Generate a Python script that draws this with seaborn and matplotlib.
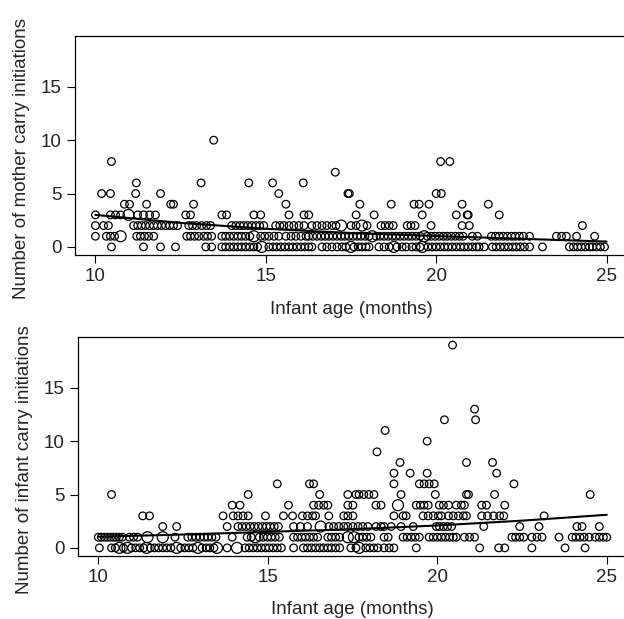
import matplotlib
matplotlib.use("Agg")
import matplotlib.pyplot as plt
import seaborn as sns
import pandas as pd

# ---------------- data: mother carry initiations (ages in months, per count) -------------
mother_c0 = [10.47, 11.41, 11.91, 12.35, 13.24, 13.41,
             13.71, 13.82, 13.94, 14.06, 14.18, 14.29, 14.41, 14.53, 14.65, 14.76,
             15.09, 15.21, 15.32, 15.44, 15.56, 15.68, 15.79, 15.91, 16.03, 16.15, 16.26, 16.35,
             16.65, 16.79, 16.94, 17.09, 17.24, 17.35, 17.59, 17.71, 17.82, 17.94, 18.03,
             18.32, 18.47, 18.62, 18.85, 19.0, 19.12,
             19.29, 19.41, 19.53, 19.76, 19.88, 20.0, 20.12, 20.24, 20.35, 20.47, 20.59,
             20.71, 20.82, 20.94, 21.06, 21.18, 21.26, 21.41, 21.65, 21.76, 21.88, 22.0,
             22.12, 22.24, 22.35, 22.47, 22.59, 22.74, 23.12,
             23.91, 24.03, 24.15, 24.26, 24.38, 24.5, 24.59, 24.71, 24.82, 24.94]
mother_c1 = [10.0, 10.32, 10.44, 10.56, 11.21, 11.32, 11.44, 11.56, 11.71,
             12.68, 12.79, 12.91, 13.03, 13.18, 13.29, 13.41,
             13.71, 13.82, 13.94, 14.06, 14.18, 14.29, 14.41, 14.53,
             14.85, 14.97, 15.09, 15.24, 15.38, 15.59, 15.74, 15.88, 16.03, 16.18,
             16.26, 16.38, 16.5, 16.62, 16.74, 16.85, 16.97, 17.09, 17.21, 17.32, 17.44,
             17.56, 17.68, 17.79, 17.91, 18.03,
             18.24, 18.35, 18.47, 18.59, 18.71, 18.82, 18.94, 19.06, 19.18, 19.29, 19.41, 19.53,
             19.74, 19.85, 19.97, 20.09, 20.21, 20.32, 20.44, 20.56, 20.68, 20.79,
             21.06, 21.21, 21.62, 21.74, 21.85, 21.97, 22.09, 22.21, 22.32, 22.44, 22.56,
             22.74, 23.53, 23.68, 23.82, 24.12, 24.65]
mother_c2 = [10.0, 10.24, 10.38, 11.12, 11.24, 11.35, 11.47, 11.59, 11.71, 11.82, 11.94,
             12.06, 12.18, 12.29, 12.41, 12.74, 12.85, 12.97, 13.12, 13.26, 13.38,
             14.0, 14.12, 14.24, 14.35, 14.47, 14.59, 14.71, 14.82, 14.94,
             15.29, 15.41, 15.53, 15.68, 15.82, 15.97, 16.12,
             16.35, 16.5, 16.65, 16.79, 16.94, 17.06, 17.5, 17.65, 17.97,
             18.38, 18.5, 18.62, 18.74, 19.15, 19.26, 19.38, 19.85, 20.76, 20.97, 24.29]
mother_c3 = [10.0, 10.44, 10.59, 10.74, 11.24, 11.41, 11.59, 11.76, 12.65, 12.79,
             13.71, 13.85, 14.65, 14.85, 15.68, 16.12, 16.26, 17.65, 18.18, 19.59,
             20.59, 20.91, 20.94, 21.85]
mother_c4 = [10.85, 11.0, 11.5, 12.21, 12.29, 12.88, 15.59, 17.76, 18.68, 19.35, 19.5,
             19.79, 20.76, 21.53]
mother_c5 = [10.18, 10.44, 11.18, 11.91, 15.38, 17.41, 17.45, 20.0, 20.15]
mother_c6 = [11.2, 13.1, 14.5, 15.2, 16.1]
mother_c7 = [17.04]
mother_c8 = [10.47, 20.13, 20.4]
mother_c10 = [13.47]
# larger circles (several observations at one point)
mother_big_age = [10.97, 10.74, 14.65, 14.88, 17.21, 17.82, 18.12, 19.65, 17.5, 18.76, 19.59]
mother_big_count = [3, 1, 1, 0, 2, 2, 1, 1, 0, 0, 0]
# fitted line
mother_fit_age = [10, 12.5, 15, 17.5, 20, 22.5, 25]
mother_fit_count = [3.0, 2.25, 1.7, 1.3, 1.02, 0.76, 0.5]

# ---------------- data: infant carry initiations ----------------
infant_c0 = [10.03, 10.39, 10.5, 10.74, 10.98, 11.1, 11.22, 11.34,
             11.54, 11.66, 11.78, 11.9, 12.02, 12.14, 12.43, 12.55, 12.67, 12.79,
             13.06, 13.18, 13.29, 13.41, 13.8,
             14.33, 14.45, 14.57, 14.69, 14.81, 14.93, 15.04, 15.16, 15.28, 15.4, 15.76,
             16.05, 16.17, 16.29, 16.41, 16.53, 16.65, 16.77, 16.88, 17.0, 17.12,
             17.45, 17.6, 17.89, 18.01, 18.13, 18.25, 18.43, 18.58, 18.72, 19.38,
             21.25, 21.81, 21.99, 22.79, 23.77, 24.36]
infant_c1 = [10.0, 10.09, 10.18, 10.27, 10.36, 10.45, 10.53, 10.62, 10.71, 10.92, 11.04, 11.16,
             12.26, 12.64, 12.76, 12.88, 13.0, 13.12, 13.23, 13.35, 13.47, 13.95,
             14.39, 14.51, 14.75, 14.87, 14.99, 15.1, 15.22, 15.34,
             15.76, 15.88, 16.0, 16.11, 16.23, 16.35, 16.47, 16.77, 16.88, 17.0, 17.12,
             17.69, 17.8, 17.92, 18.04, 18.43, 18.55, 18.99, 19.11, 19.23, 19.35, 19.47,
             19.76, 19.88, 20.0, 20.12, 20.24, 20.36, 20.47, 20.56, 20.8, 20.95, 21.1,
             22.2, 22.31, 22.43, 22.55, 22.79, 22.94, 23.09, 23.59,
             23.98, 24.09, 24.21, 24.33, 24.48, 24.66, 24.78, 24.9, 25.0]
infant_c2 = [11.9, 12.31, 13.8, 14.12, 14.24, 14.36, 14.48, 14.6, 14.72, 14.84, 14.96,
             15.07, 15.19, 15.31, 15.76, 15.96, 16.17, 16.8, 16.94, 17.09, 17.24, 17.36,
             17.51, 17.66, 17.8, 17.95, 18.19, 18.34, 18.43, 18.64, 18.93, 19.29,
             19.97, 20.06, 20.18, 20.3, 20.42, 21.37, 22.43, 23.0, 24.12, 24.27, 24.78]
infant_c3 = [11.31, 11.51, 13.68, 13.98, 14.12, 14.27, 14.42, 14.93, 15.46, 15.73,
             16.02, 16.17, 16.32, 16.41, 16.8, 17.24, 17.36, 17.51, 18.72, 18.99, 19.08,
             19.58, 19.73, 19.88, 20.03, 20.12, 20.33, 20.47, 20.62, 20.77, 20.86,
             21.31, 21.48, 21.66, 21.84, 21.96, 23.15]
infant_c4 = [13.95, 14.18, 15.61, 16.35, 16.5, 16.65, 16.77, 17.36, 17.51, 18.19, 18.34,
             19.38, 19.5, 19.61, 19.73, 20.06, 20.18, 20.33, 20.56, 20.71, 20.8,
             21.31, 21.45, 21.99]
infant_c5 = [10.39, 14.42, 16.53, 17.36, 17.6, 17.69, 17.83, 17.98, 18.13, 18.93, 19.94,
             20.86, 20.92, 21.69, 24.51]
infant_c6 = [15.28, 16.23, 16.35, 18.72, 19.47, 19.61, 19.76, 19.91, 22.26]
infant_c7 = [18.72, 19.2, 19.7, 21.75]
infant_c8 = [18.9, 20.86, 21.63]
infant_c9 = [18.22]
infant_c10 = [19.7]
infant_c11 = [18.46]
infant_c12 = [20.21, 21.13]
infant_c13 = [21.1]
infant_c19 = [20.45]
infant_big_age = [11.45, 11.9, 14.63, 17.36, 17.54, 10.62, 10.86, 11.42, 12.31, 12.94,
                  13.5, 14.09, 17.69, 18.84, 16.56]
infant_big_count = [1, 1, 1, 1, 1, 0, 0, 0, 0, 0, 0, 0, 0, 4, 2]
infant_fit_age = [10, 12.5, 15, 17.5, 20, 22.5, 25]
infant_fit_count = [1.05, 1.25, 1.5, 1.75, 2.1, 2.55, 3.1]

x_ticks = [10, 15, 20, 25]
y_ticks = [0, 5, 10, 15]
x_label = "Infant age (months)"
mother_label = "Number of mother carry initiations"
infant_label = "Number of infant carry initiations"


def build(rows):
    ages, counts = [], []
    for c, lst in rows.items():
        ages += lst
        counts += [c] * len(lst)
    return pd.DataFrame({"age": ages, "count": counts})


mother_df = build({0: mother_c0, 1: mother_c1, 2: mother_c2, 3: mother_c3, 4: mother_c4,
                   5: mother_c5, 6: mother_c6, 7: mother_c7, 8: mother_c8, 10: mother_c10})
infant_df = build({0: infant_c0, 1: infant_c1, 2: infant_c2, 3: infant_c3, 4: infant_c4,
                   5: infant_c5, 6: infant_c6, 7: infant_c7, 8: infant_c8, 9: infant_c9,
                   10: infant_c10, 11: infant_c11, 12: infant_c12, 13: infant_c13,
                   19: infant_c19})
mother_big = pd.DataFrame({"age": mother_big_age, "count": mother_big_count})
infant_big = pd.DataFrame({"age": infant_big_age, "count": infant_big_count})
mother_fit = pd.DataFrame({"age": mother_fit_age, "count": mother_fit_count})
infant_fit = pd.DataFrame({"age": infant_fit_age, "count": infant_fit_count})

sns.set_style("ticks")
plt.rcParams["font.family"] = ["Liberation Sans", "DejaVu Sans"]
FS = 13.5

fig = plt.figure(figsize=(6.24, 6.19), dpi=100)
ax1 = fig.add_axes([0.1202, 0.588, 0.8846, 0.3538])
ax2 = fig.add_axes([0.1250, 0.1018, 0.8800, 0.3538])

panels = [(ax1, mother_df, mother_big, mother_fit, mother_label),
          (ax2, infant_df, infant_big, infant_fit, infant_label)]

for ax, df, big, fit, ylab in panels:
    sns.scatterplot(data=df, x="age", y="count", ax=ax, marker="o", s=30,
                    facecolor="none", edgecolor="black", linewidth=0.9, legend=False)
    sns.scatterplot(data=big, x="age", y="count", ax=ax, marker="o", s=62,
                    facecolor="none", edgecolor="black", linewidth=0.9, legend=False)
    sns.lineplot(data=fit, x="age", y="count", ax=ax, color="black", linewidth=1.5,
                 legend=False)
    ax.set_xlim(9.4, 25.6)
    ax.set_ylim(-0.76, 19.76)
    ax.set_xticks(x_ticks)
    ax.set_yticks(y_ticks)
    ax.set_xticklabels([str(t) for t in x_ticks])
    ax.set_yticklabels([str(t) for t in y_ticks])
    ax.tick_params(axis="both", direction="out", length=5.5, width=0.8, color="black",
                   labelsize=FS, pad=4)
    for sp in ax.spines.values():
        sp.set_visible(True)
        sp.set_color("black")
        sp.set_linewidth(0.9)
    ax.set_xlabel(x_label, fontsize=FS, labelpad=11)
    ax.set_ylabel(ylab, fontsize=FS, labelpad=8)
    ax.yaxis.label.set_y(0.44)
    ax.set_facecolor("white")

fig.savefig("out.png", dpi=100, facecolor="white")
